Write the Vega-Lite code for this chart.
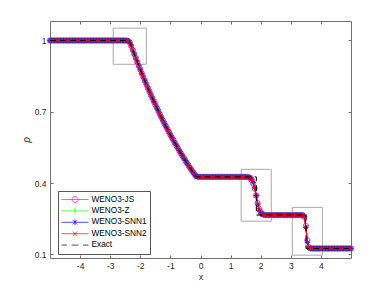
{
  "$schema": "https://vega.github.io/schema/vega-lite/v6.json",
  "autosize": {"type": "none"},
  "width": 301,
  "height": 237,
  "padding": {"left": 50, "top": 21, "right": 37, "bottom": 33},
  "background": "white",
  "config": {
    "view": {"stroke": null},
    "font": "Liberation Sans",
    "axis": {"grid": false, "domainColor": "#707070", "tickColor": "#707070", "labelColor": "#262626", "titleColor": "#262626", "labelFont": "Liberation Sans", "titleFont": "Liberation Sans", "labelFontSize": 8.5, "titleFontWeight": "normal"}
  },
  "datasets": {
    "num": [
      {"x": -5.00, "js": 1, "z": 1, "s1": 1, "s2": 1},
      {"x": -4.95, "js": 1, "z": 1, "s1": 1, "s2": 1},
      {"x": -4.90, "js": 1, "z": 1, "s1": 1, "s2": 1},
      {"x": -4.85, "js": 1, "z": 1, "s1": 1, "s2": 1},
      {"x": -4.80, "js": 1, "z": 1, "s1": 1, "s2": 1},
      {"x": -4.75, "js": 1, "z": 1, "s1": 1, "s2": 1},
      {"x": -4.70, "js": 1, "z": 1, "s1": 1, "s2": 1},
      {"x": -4.65, "js": 1, "z": 1, "s1": 1, "s2": 1},
      {"x": -4.60, "js": 1, "z": 1, "s1": 1, "s2": 1},
      {"x": -4.55, "js": 1, "z": 1, "s1": 1, "s2": 1},
      {"x": -4.50, "js": 1, "z": 1, "s1": 1, "s2": 1},
      {"x": -4.45, "js": 1, "z": 1, "s1": 1, "s2": 1},
      {"x": -4.40, "js": 1, "z": 1, "s1": 1, "s2": 1},
      {"x": -4.35, "js": 1, "z": 1, "s1": 1, "s2": 1},
      {"x": -4.30, "js": 1, "z": 1, "s1": 1, "s2": 1},
      {"x": -4.25, "js": 1, "z": 1, "s1": 1, "s2": 1},
      {"x": -4.20, "js": 1, "z": 1, "s1": 1, "s2": 1},
      {"x": -4.15, "js": 1, "z": 1, "s1": 1, "s2": 1},
      {"x": -4.10, "js": 1, "z": 1, "s1": 1, "s2": 1},
      {"x": -4.05, "js": 1, "z": 1, "s1": 1, "s2": 1},
      {"x": -4.00, "js": 1, "z": 1, "s1": 1, "s2": 1},
      {"x": -3.95, "js": 1, "z": 1, "s1": 1, "s2": 1},
      {"x": -3.90, "js": 1, "z": 1, "s1": 1, "s2": 1},
      {"x": -3.85, "js": 1, "z": 1, "s1": 1, "s2": 1},
      {"x": -3.80, "js": 1, "z": 1, "s1": 1, "s2": 1},
      {"x": -3.75, "js": 1, "z": 1, "s1": 1, "s2": 1},
      {"x": -3.70, "js": 1, "z": 1, "s1": 1, "s2": 1},
      {"x": -3.65, "js": 1, "z": 1, "s1": 1, "s2": 1},
      {"x": -3.60, "js": 1, "z": 1, "s1": 1, "s2": 1},
      {"x": -3.55, "js": 1, "z": 1, "s1": 1, "s2": 1},
      {"x": -3.50, "js": 1, "z": 1, "s1": 1, "s2": 1},
      {"x": -3.45, "js": 1, "z": 1, "s1": 1, "s2": 1},
      {"x": -3.40, "js": 1, "z": 1, "s1": 1, "s2": 1},
      {"x": -3.35, "js": 1, "z": 1, "s1": 1, "s2": 1},
      {"x": -3.30, "js": 1, "z": 1, "s1": 1, "s2": 1},
      {"x": -3.25, "js": 1, "z": 1, "s1": 1, "s2": 1},
      {"x": -3.20, "js": 1, "z": 1, "s1": 1, "s2": 1},
      {"x": -3.15, "js": 1, "z": 1, "s1": 1, "s2": 1},
      {"x": -3.10, "js": 1, "z": 1, "s1": 1, "s2": 1},
      {"x": -3.05, "js": 1, "z": 1, "s1": 1, "s2": 1},
      {"x": -3.00, "js": 1, "z": 1, "s1": 1, "s2": 1},
      {"x": -2.95, "js": 1, "z": 1, "s1": 1, "s2": 1},
      {"x": -2.90, "js": 1, "z": 1, "s1": 1, "s2": 1},
      {"x": -2.85, "js": 1, "z": 1, "s1": 1, "s2": 1},
      {"x": -2.80, "js": 1, "z": 1, "s1": 1, "s2": 1},
      {"x": -2.75, "js": 1, "z": 1, "s1": 1, "s2": 1},
      {"x": -2.70, "js": 1, "z": 1, "s1": 1, "s2": 1},
      {"x": -2.65, "js": 1, "z": 1, "s1": 1, "s2": 1},
      {"x": -2.60, "js": 1, "z": 1, "s1": 1, "s2": 1},
      {"x": -2.55, "js": 1, "z": 1, "s1": 1, "s2": 1},
      {"x": -2.50, "js": 0.9999, "z": 1, "s1": 1, "s2": 1},
      {"x": -2.45, "js": 0.9997, "z": 0.9999, "s1": 0.9999, "s2": 0.9999},
      {"x": -2.40, "js": 0.9985, "z": 0.9990, "s1": 0.9990, "s2": 0.9990},
      {"x": -2.35, "js": 0.9918, "z": 0.9925, "s1": 0.9926, "s2": 0.9926},
      {"x": -2.30, "js": 0.9768, "z": 0.9772, "s1": 0.9772, "s2": 0.9772},
      {"x": -2.25, "js": 0.9596, "z": 0.9597, "s1": 0.9597, "s2": 0.9597},
      {"x": -2.20, "js": 0.9428, "z": 0.9428, "s1": 0.9428, "s2": 0.9428},
      {"x": -2.15, "js": 0.9261, "z": 0.9261, "s1": 0.9261, "s2": 0.9261},
      {"x": -2.10, "js": 0.9096, "z": 0.9096, "s1": 0.9096, "s2": 0.9096},
      {"x": -2.05, "js": 0.8934, "z": 0.8934, "s1": 0.8934, "s2": 0.8934},
      {"x": -2.00, "js": 0.8775, "z": 0.8775, "s1": 0.8775, "s2": 0.8775},
      {"x": -1.95, "js": 0.8617, "z": 0.8617, "s1": 0.8617, "s2": 0.8617},
      {"x": -1.90, "js": 0.8462, "z": 0.8462, "s1": 0.8462, "s2": 0.8462},
      {"x": -1.85, "js": 0.8309, "z": 0.8309, "s1": 0.8309, "s2": 0.8309},
      {"x": -1.80, "js": 0.8158, "z": 0.8158, "s1": 0.8158, "s2": 0.8158},
      {"x": -1.75, "js": 0.8010, "z": 0.8010, "s1": 0.8010, "s2": 0.8010},
      {"x": -1.70, "js": 0.7863, "z": 0.7863, "s1": 0.7863, "s2": 0.7863},
      {"x": -1.65, "js": 0.7719, "z": 0.7719, "s1": 0.7719, "s2": 0.7719},
      {"x": -1.60, "js": 0.7577, "z": 0.7577, "s1": 0.7577, "s2": 0.7577},
      {"x": -1.55, "js": 0.7437, "z": 0.7437, "s1": 0.7437, "s2": 0.7437},
      {"x": -1.50, "js": 0.7299, "z": 0.7299, "s1": 0.7299, "s2": 0.7299},
      {"x": -1.45, "js": 0.7163, "z": 0.7163, "s1": 0.7163, "s2": 0.7163},
      {"x": -1.40, "js": 0.7030, "z": 0.7030, "s1": 0.7030, "s2": 0.7030},
      {"x": -1.35, "js": 0.6898, "z": 0.6898, "s1": 0.6898, "s2": 0.6898},
      {"x": -1.30, "js": 0.6768, "z": 0.6768, "s1": 0.6768, "s2": 0.6768},
      {"x": -1.25, "js": 0.6640, "z": 0.6640, "s1": 0.6640, "s2": 0.6640},
      {"x": -1.20, "js": 0.6514, "z": 0.6514, "s1": 0.6514, "s2": 0.6514},
      {"x": -1.15, "js": 0.6390, "z": 0.6390, "s1": 0.6390, "s2": 0.6390},
      {"x": -1.10, "js": 0.6268, "z": 0.6268, "s1": 0.6268, "s2": 0.6268},
      {"x": -1.05, "js": 0.6148, "z": 0.6148, "s1": 0.6148, "s2": 0.6148},
      {"x": -1.00, "js": 0.6029, "z": 0.6029, "s1": 0.6029, "s2": 0.6029},
      {"x": -0.95, "js": 0.5913, "z": 0.5913, "s1": 0.5913, "s2": 0.5913},
      {"x": -0.90, "js": 0.5798, "z": 0.5798, "s1": 0.5798, "s2": 0.5798},
      {"x": -0.85, "js": 0.5685, "z": 0.5685, "s1": 0.5685, "s2": 0.5685},
      {"x": -0.80, "js": 0.5574, "z": 0.5574, "s1": 0.5574, "s2": 0.5574},
      {"x": -0.75, "js": 0.5464, "z": 0.5464, "s1": 0.5464, "s2": 0.5464},
      {"x": -0.70, "js": 0.5357, "z": 0.5357, "s1": 0.5357, "s2": 0.5357},
      {"x": -0.65, "js": 0.5251, "z": 0.5251, "s1": 0.5251, "s2": 0.5251},
      {"x": -0.60, "js": 0.5146, "z": 0.5146, "s1": 0.5146, "s2": 0.5146},
      {"x": -0.55, "js": 0.5044, "z": 0.5044, "s1": 0.5044, "s2": 0.5044},
      {"x": -0.50, "js": 0.4943, "z": 0.4943, "s1": 0.4943, "s2": 0.4943},
      {"x": -0.45, "js": 0.4843, "z": 0.4843, "s1": 0.4843, "s2": 0.4843},
      {"x": -0.40, "js": 0.4745, "z": 0.4745, "s1": 0.4745, "s2": 0.4745},
      {"x": -0.35, "js": 0.4649, "z": 0.4649, "s1": 0.4649, "s2": 0.4649},
      {"x": -0.30, "js": 0.4555, "z": 0.4555, "s1": 0.4555, "s2": 0.4555},
      {"x": -0.25, "js": 0.4462, "z": 0.4461, "s1": 0.4461, "s2": 0.4461},
      {"x": -0.20, "js": 0.4375, "z": 0.4371, "s1": 0.4371, "s2": 0.4371},
      {"x": -0.15, "js": 0.4295, "z": 0.4288, "s1": 0.4288, "s2": 0.4288},
      {"x": -0.10, "js": 0.4272, "z": 0.4268, "s1": 0.4268, "s2": 0.4268},
      {"x": -0.05, "js": 0.4265, "z": 0.4264, "s1": 0.4264, "s2": 0.4264},
      {"x": 0.00, "js": 0.4263, "z": 0.4263, "s1": 0.4263, "s2": 0.4263},
      {"x": 0.05, "js": 0.4263, "z": 0.4263, "s1": 0.4263, "s2": 0.4263},
      {"x": 0.10, "js": 0.4263, "z": 0.4263, "s1": 0.4263, "s2": 0.4263},
      {"x": 0.15, "js": 0.4263, "z": 0.4263, "s1": 0.4263, "s2": 0.4263},
      {"x": 0.20, "js": 0.4263, "z": 0.4263, "s1": 0.4263, "s2": 0.4263},
      {"x": 0.25, "js": 0.4263, "z": 0.4263, "s1": 0.4263, "s2": 0.4263},
      {"x": 0.30, "js": 0.4263, "z": 0.4263, "s1": 0.4263, "s2": 0.4263},
      {"x": 0.35, "js": 0.4263, "z": 0.4263, "s1": 0.4263, "s2": 0.4263},
      {"x": 0.40, "js": 0.4263, "z": 0.4263, "s1": 0.4263, "s2": 0.4263},
      {"x": 0.45, "js": 0.4263, "z": 0.4263, "s1": 0.4263, "s2": 0.4263},
      {"x": 0.50, "js": 0.4263, "z": 0.4263, "s1": 0.4263, "s2": 0.4263},
      {"x": 0.55, "js": 0.4263, "z": 0.4263, "s1": 0.4263, "s2": 0.4263},
      {"x": 0.60, "js": 0.4263, "z": 0.4263, "s1": 0.4263, "s2": 0.4263},
      {"x": 0.65, "js": 0.4263, "z": 0.4263, "s1": 0.4263, "s2": 0.4263},
      {"x": 0.70, "js": 0.4263, "z": 0.4263, "s1": 0.4263, "s2": 0.4263},
      {"x": 0.75, "js": 0.4263, "z": 0.4263, "s1": 0.4263, "s2": 0.4263},
      {"x": 0.80, "js": 0.4263, "z": 0.4263, "s1": 0.4263, "s2": 0.4263},
      {"x": 0.85, "js": 0.4263, "z": 0.4263, "s1": 0.4263, "s2": 0.4263},
      {"x": 0.90, "js": 0.4263, "z": 0.4263, "s1": 0.4263, "s2": 0.4263},
      {"x": 0.95, "js": 0.4263, "z": 0.4263, "s1": 0.4263, "s2": 0.4263},
      {"x": 1.00, "js": 0.4263, "z": 0.4263, "s1": 0.4263, "s2": 0.4263},
      {"x": 1.05, "js": 0.4263, "z": 0.4263, "s1": 0.4263, "s2": 0.4263},
      {"x": 1.10, "js": 0.4263, "z": 0.4263, "s1": 0.4263, "s2": 0.4263},
      {"x": 1.15, "js": 0.4263, "z": 0.4263, "s1": 0.4263, "s2": 0.4263},
      {"x": 1.20, "js": 0.4263, "z": 0.4263, "s1": 0.4263, "s2": 0.4263},
      {"x": 1.25, "js": 0.4263, "z": 0.4263, "s1": 0.4263, "s2": 0.4263},
      {"x": 1.30, "js": 0.4263, "z": 0.4263, "s1": 0.4263, "s2": 0.4263},
      {"x": 1.35, "js": 0.4263, "z": 0.4263, "s1": 0.4263, "s2": 0.4263},
      {"x": 1.40, "js": 0.4263, "z": 0.4263, "s1": 0.4263, "s2": 0.4263},
      {"x": 1.45, "js": 0.4263, "z": 0.4263, "s1": 0.4263, "s2": 0.4263},
      {"x": 1.50, "js": 0.4262, "z": 0.4263, "s1": 0.4263, "s2": 0.4263},
      {"x": 1.55, "js": 0.4260, "z": 0.4262, "s1": 0.4262, "s2": 0.4262},
      {"x": 1.60, "js": 0.4250, "z": 0.4255, "s1": 0.4256, "s2": 0.4256},
      {"x": 1.65, "js": 0.4215, "z": 0.4230, "s1": 0.4232, "s2": 0.4232},
      {"x": 1.70, "js": 0.4130, "z": 0.4160, "s1": 0.4163, "s2": 0.4163},
      {"x": 1.75, "js": 0.3980, "z": 0.4020, "s1": 0.4025, "s2": 0.4025},
      {"x": 1.80, "js": 0.3770, "z": 0.3800, "s1": 0.3805, "s2": 0.3805},
      {"x": 1.85, "js": 0.3480, "z": 0.3480, "s1": 0.3480, "s2": 0.3480},
      {"x": 1.90, "js": 0.3160, "z": 0.3120, "s1": 0.3115, "s2": 0.3115},
      {"x": 1.95, "js": 0.2920, "z": 0.2870, "s1": 0.2865, "s2": 0.2865},
      {"x": 2.00, "js": 0.2780, "z": 0.2740, "s1": 0.2737, "s2": 0.2737},
      {"x": 2.05, "js": 0.2705, "z": 0.2685, "s1": 0.2683, "s2": 0.2683},
      {"x": 2.10, "js": 0.2675, "z": 0.2665, "s1": 0.2664, "s2": 0.2664},
      {"x": 2.15, "js": 0.2662, "z": 0.2659, "s1": 0.2659, "s2": 0.2659},
      {"x": 2.20, "js": 0.2658, "z": 0.2657, "s1": 0.2657, "s2": 0.2657},
      {"x": 2.25, "js": 0.2656, "z": 0.2656, "s1": 0.2656, "s2": 0.2656},
      {"x": 2.30, "js": 0.2656, "z": 0.2656, "s1": 0.2656, "s2": 0.2656},
      {"x": 2.35, "js": 0.2656, "z": 0.2656, "s1": 0.2656, "s2": 0.2656},
      {"x": 2.40, "js": 0.2656, "z": 0.2656, "s1": 0.2656, "s2": 0.2656},
      {"x": 2.45, "js": 0.2656, "z": 0.2656, "s1": 0.2656, "s2": 0.2656},
      {"x": 2.50, "js": 0.2656, "z": 0.2656, "s1": 0.2656, "s2": 0.2656},
      {"x": 2.55, "js": 0.2656, "z": 0.2656, "s1": 0.2656, "s2": 0.2656},
      {"x": 2.60, "js": 0.2656, "z": 0.2656, "s1": 0.2656, "s2": 0.2656},
      {"x": 2.65, "js": 0.2656, "z": 0.2656, "s1": 0.2656, "s2": 0.2656},
      {"x": 2.70, "js": 0.2656, "z": 0.2656, "s1": 0.2656, "s2": 0.2656},
      {"x": 2.75, "js": 0.2656, "z": 0.2656, "s1": 0.2656, "s2": 0.2656},
      {"x": 2.80, "js": 0.2656, "z": 0.2656, "s1": 0.2656, "s2": 0.2656},
      {"x": 2.85, "js": 0.2656, "z": 0.2656, "s1": 0.2656, "s2": 0.2656},
      {"x": 2.90, "js": 0.2656, "z": 0.2656, "s1": 0.2656, "s2": 0.2656},
      {"x": 2.95, "js": 0.2656, "z": 0.2656, "s1": 0.2656, "s2": 0.2656},
      {"x": 3.00, "js": 0.2656, "z": 0.2656, "s1": 0.2656, "s2": 0.2656},
      {"x": 3.05, "js": 0.2656, "z": 0.2656, "s1": 0.2656, "s2": 0.2656},
      {"x": 3.10, "js": 0.2656, "z": 0.2656, "s1": 0.2656, "s2": 0.2656},
      {"x": 3.15, "js": 0.2656, "z": 0.2656, "s1": 0.2656, "s2": 0.2656},
      {"x": 3.20, "js": 0.2656, "z": 0.2656, "s1": 0.2656, "s2": 0.2656},
      {"x": 3.25, "js": 0.2656, "z": 0.2656, "s1": 0.2656, "s2": 0.2656},
      {"x": 3.30, "js": 0.2656, "z": 0.2656, "s1": 0.2656, "s2": 0.2656},
      {"x": 3.35, "js": 0.2655, "z": 0.2656, "s1": 0.2656, "s2": 0.2656},
      {"x": 3.40, "js": 0.2645, "z": 0.2650, "s1": 0.2651, "s2": 0.2651},
      {"x": 3.45, "js": 0.2580, "z": 0.2600, "s1": 0.2605, "s2": 0.2605},
      {"x": 3.50, "js": 0.2200, "z": 0.2150, "s1": 0.2140, "s2": 0.2140},
      {"x": 3.55, "js": 0.1600, "z": 0.1520, "s1": 0.1505, "s2": 0.1505},
      {"x": 3.60, "js": 0.1310, "z": 0.1280, "s1": 0.1275, "s2": 0.1275},
      {"x": 3.65, "js": 0.1258, "z": 0.1252, "s1": 0.1252, "s2": 0.1252},
      {"x": 3.70, "js": 0.1251, "z": 0.1250, "s1": 0.1250, "s2": 0.1250},
      {"x": 3.75, "js": 0.125, "z": 0.125, "s1": 0.125, "s2": 0.125},
      {"x": 3.80, "js": 0.125, "z": 0.125, "s1": 0.125, "s2": 0.125},
      {"x": 3.85, "js": 0.125, "z": 0.125, "s1": 0.125, "s2": 0.125},
      {"x": 3.90, "js": 0.125, "z": 0.125, "s1": 0.125, "s2": 0.125},
      {"x": 3.95, "js": 0.125, "z": 0.125, "s1": 0.125, "s2": 0.125},
      {"x": 4.00, "js": 0.125, "z": 0.125, "s1": 0.125, "s2": 0.125},
      {"x": 4.05, "js": 0.125, "z": 0.125, "s1": 0.125, "s2": 0.125},
      {"x": 4.10, "js": 0.125, "z": 0.125, "s1": 0.125, "s2": 0.125},
      {"x": 4.15, "js": 0.125, "z": 0.125, "s1": 0.125, "s2": 0.125},
      {"x": 4.20, "js": 0.125, "z": 0.125, "s1": 0.125, "s2": 0.125},
      {"x": 4.25, "js": 0.125, "z": 0.125, "s1": 0.125, "s2": 0.125},
      {"x": 4.30, "js": 0.125, "z": 0.125, "s1": 0.125, "s2": 0.125},
      {"x": 4.35, "js": 0.125, "z": 0.125, "s1": 0.125, "s2": 0.125},
      {"x": 4.40, "js": 0.125, "z": 0.125, "s1": 0.125, "s2": 0.125},
      {"x": 4.45, "js": 0.125, "z": 0.125, "s1": 0.125, "s2": 0.125},
      {"x": 4.50, "js": 0.125, "z": 0.125, "s1": 0.125, "s2": 0.125},
      {"x": 4.55, "js": 0.125, "z": 0.125, "s1": 0.125, "s2": 0.125},
      {"x": 4.60, "js": 0.125, "z": 0.125, "s1": 0.125, "s2": 0.125},
      {"x": 4.65, "js": 0.125, "z": 0.125, "s1": 0.125, "s2": 0.125},
      {"x": 4.70, "js": 0.125, "z": 0.125, "s1": 0.125, "s2": 0.125},
      {"x": 4.75, "js": 0.125, "z": 0.125, "s1": 0.125, "s2": 0.125},
      {"x": 4.80, "js": 0.125, "z": 0.125, "s1": 0.125, "s2": 0.125},
      {"x": 4.85, "js": 0.125, "z": 0.125, "s1": 0.125, "s2": 0.125},
      {"x": 4.90, "js": 0.125, "z": 0.125, "s1": 0.125, "s2": 0.125},
      {"x": 4.95, "js": 0.125, "z": 0.125, "s1": 0.125, "s2": 0.125},
      {"x": 5.00, "js": 0.125, "z": 0.125, "s1": 0.125, "s2": 0.125}
    ],
    "exact": [
      {"x": -5, "rho": 1},
      {"x": -2.366, "rho": 1},
      {"x": -2.3, "rho": 0.9768},
      {"x": -2.2, "rho": 0.9428},
      {"x": -2.1, "rho": 0.9096},
      {"x": -2.0, "rho": 0.8775},
      {"x": -1.8, "rho": 0.8158},
      {"x": -1.6, "rho": 0.7577},
      {"x": -1.4, "rho": 0.7030},
      {"x": -1.2, "rho": 0.6514},
      {"x": -1.0, "rho": 0.6029},
      {"x": -0.8, "rho": 0.5574},
      {"x": -0.6, "rho": 0.5146},
      {"x": -0.4, "rho": 0.4745},
      {"x": -0.2, "rho": 0.4370},
      {"x": -0.1405, "rho": 0.4263},
      {"x": 1.855, "rho": 0.4263},
      {"x": 1.855, "rho": 0.2656},
      {"x": 3.504, "rho": 0.2656},
      {"x": 3.504, "rho": 0.125},
      {"x": 5, "rho": 0.125}
    ],
    "boxes": [
      {"x1": -2.9, "x2": -1.8, "y1": 0.9, "y2": 1.052},
      {"x1": 1.35, "x2": 2.35, "y1": 0.24, "y2": 0.458},
      {"x1": 3.05, "x2": 4.05, "y1": 0.097, "y2": 0.298}
    ],
    "legend": [
      {"series": "WENO3-JS"},
      {"series": "WENO3-Z"},
      {"series": "WENO3-SNN1"},
      {"series": "WENO3-SNN2"},
      {"series": "Exact"}
    ]
  },
  "resolve": {"axis": {"x": "independent", "y": "independent"}},
  "layer": [
    {
      "data": {"name": "boxes"},
      "mark": {"type": "rect", "fill": null, "fillOpacity": 0, "stroke": "#a8a8a8", "strokeWidth": 1},
      "encoding": {
        "x": {"field": "x1", "type": "quantitative", "scale": {"domain": [-5, 5], "nice": false, "zero": false},
              "axis": {"orient": "bottom", "title": "x", "titleFontSize": 9, "titlePadding": 3, "values": [-4, -3, -2, -1, 0, 1, 2, 3, 4], "labelExpr": "replace(datum.label, '−', '-')", "tickSize": -3, "labelPadding": 6, "domain": true}},
        "x2": {"field": "x2"},
        "y": {"field": "y1", "type": "quantitative", "scale": {"domain": [0.085, 1.082], "nice": false, "zero": false},
              "axis": {"orient": "left", "title": "ρ", "titleFontSize": 10, "titleFontStyle": "italic", "titlePadding": 3, "values": [0.1, 0.4, 0.7, 1], "format": "~g", "tickSize": -3, "labelPadding": 7, "domain": true}},
        "y2": {"field": "y2"}
      }
    },
    {
      "data": {"name": "num"},
      "mark": {"type": "line", "color": "#ff00ff", "strokeWidth": 1, "point": {"shape": "circle", "filled": false, "size": 28, "color": "#ff00ff", "strokeWidth": 0.8}},
      "encoding": {
        "x": {"field": "x", "type": "quantitative", "scale": {"domain": [-5, 5], "nice": false, "zero": false}, "axis": null},
        "y": {"field": "js", "type": "quantitative", "scale": {"domain": [0.085, 1.082], "nice": false, "zero": false}, "axis": null}
      }
    },
    {
      "data": {"name": "num"},
      "mark": {"type": "line", "color": "#00ff00", "strokeWidth": 1, "point": {"shape": "M-1,0L1,0M0,-1L0,1", "filled": false, "size": 30, "color": "#00ff00", "strokeWidth": 0.8}},
      "encoding": {
        "x": {"field": "x", "type": "quantitative", "scale": {"domain": [-5, 5], "nice": false, "zero": false}, "axis": null},
        "y": {"field": "z", "type": "quantitative", "scale": {"domain": [0.085, 1.082], "nice": false, "zero": false}, "axis": null}
      }
    },
    {
      "data": {"name": "num"},
      "mark": {"type": "line", "color": "#0000ff", "strokeWidth": 1, "point": {"shape": "M-1,0L1,0M0,-1L0,1M-0.7,-0.7L0.7,0.7M-0.7,0.7L0.7,-0.7", "filled": false, "size": 26, "color": "#0000ff", "strokeWidth": 0.8}},
      "encoding": {
        "x": {"field": "x", "type": "quantitative", "scale": {"domain": [-5, 5], "nice": false, "zero": false}, "axis": null},
        "y": {"field": "s1", "type": "quantitative", "scale": {"domain": [0.085, 1.082], "nice": false, "zero": false}, "axis": null}
      }
    },
    {
      "data": {"name": "num"},
      "mark": {"type": "line", "color": "#ff0000", "strokeWidth": 1.2, "point": {"shape": "M-0.7,-0.7L0.7,0.7M-0.7,0.7L0.7,-0.7", "filled": false, "size": 24, "color": "#ff0000", "strokeWidth": 0.9}},
      "encoding": {
        "x": {"field": "x", "type": "quantitative", "scale": {"domain": [-5, 5], "nice": false, "zero": false}, "axis": null},
        "y": {"field": "s2", "type": "quantitative", "scale": {"domain": [0.085, 1.082], "nice": false, "zero": false}, "axis": null}
      }
    },
    {
      "data": {"name": "exact"},
      "mark": {"type": "line", "color": "#000000", "strokeWidth": 1, "strokeDash": [6, 4]},
      "encoding": {
        "x": {"field": "x", "type": "quantitative", "scale": {"domain": [-5, 5], "nice": false, "zero": false},
              "axis": {"orient": "top", "title": null, "labels": false, "values": [-4, -3, -2, -1, 0, 1, 2, 3, 4], "tickSize": -3, "domain": true}},
        "y": {"field": "rho", "type": "quantitative", "scale": {"domain": [0.085, 1.082], "nice": false, "zero": false},
              "axis": {"orient": "right", "title": null, "labels": false, "values": [0.1, 0.4, 0.7, 1], "tickSize": -3, "domain": true}},
        "order": {"value": null}
      }
    },
    {
      "data": {"name": "legend"},
      "mark": {"type": "point", "filled": false, "opacity": 0, "strokeWidth": 0.7},
      "encoding": {
        "color": {"field": "series", "type": "nominal",
          "scale": {"domain": ["WENO3-JS", "WENO3-Z", "WENO3-SNN1", "WENO3-SNN2", "Exact"], "range": ["#ff00ff", "#00ff00", "#0000ff", "#ff0000", "#000000"]},
          "legend": {"orient": "none", "legendX": 8, "legendY": 170, "title": null, "padding": 3, "rowPadding": 0.4, "clipHeight": 11, "symbolSize": 729, "symbolStrokeWidth": 0.7, "symbolOpacity": 1, "labelFontSize": 8.25, "labelOffset": 2.5, "labelColor": "#000000", "labelFont": "Liberation Sans", "strokeColor": "#555555", "fillColor": "#ffffff", "cornerRadius": 0}},
        "shape": {"field": "series", "type": "nominal",
          "scale": {"domain": ["WENO3-JS", "WENO3-Z", "WENO3-SNN1", "WENO3-SNN2", "Exact"],
                    "range": ["M-1,0L1,0M-0.22,0A0.22,0.22,0,1,0,0.22,0A0.22,0.22,0,1,0,-0.22,0", "M-1,0L1,0M0,-0.22L0,0.22", "M-1,0L1,0M0,-0.22L0,0.22M-0.16,-0.16L0.16,0.16M-0.16,0.16L0.16,-0.16", "M-1,0L1,0M-0.16,-0.16L0.16,0.16M-0.16,0.16L0.16,-0.16", "M-1,0L-0.6,0M-0.25,0L0.25,0M0.6,0L1,0"]},
          "legend": {"orient": "none", "legendX": 8, "legendY": 170, "title": null, "padding": 3, "rowPadding": 0.4, "clipHeight": 11, "symbolSize": 729, "symbolStrokeWidth": 0.7, "symbolOpacity": 1, "labelFontSize": 8.25, "labelOffset": 2.5, "labelColor": "#000000", "labelFont": "Liberation Sans", "strokeColor": "#555555", "fillColor": "#ffffff", "cornerRadius": 0}}
      }
    }
  ]
}
